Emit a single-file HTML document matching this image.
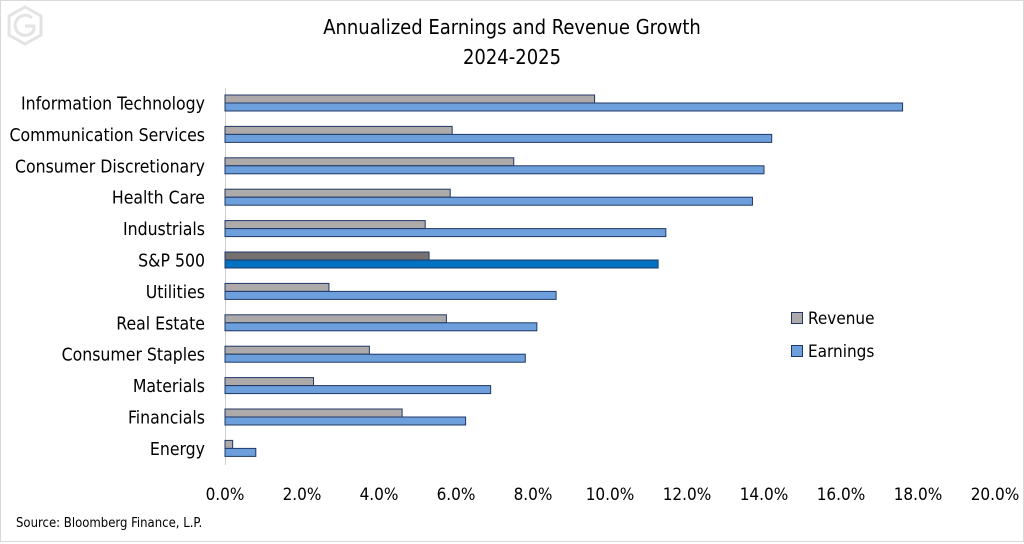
<!DOCTYPE html>
<html><head><meta charset="utf-8">
<style>
body{margin:0;background:#fff;}
#c{width:1024px;height:544px;position:relative;overflow:hidden;font-family:"DejaVu Sans Condensed","Liberation Sans Narrow","Liberation Sans",sans-serif;}
svg text{font-family:"DejaVu Sans Condensed","Liberation Sans Narrow","Liberation Sans",sans-serif;}
</style></head>
<body>
<div id="c">
<svg id="s" width="1024" height="544" xmlns="http://www.w3.org/2000/svg">
  <rect x="0.5" y="0.5" width="1023" height="541" fill="none" stroke="#d9d9d9"/>
  <g fill="none" stroke="#e3e3e3" stroke-width="3">
    <polygon points="25,7 41,16 41,35 25,44 9,35 9,16"/>
    <path d="M32,18 A10,10 0 1 0 34,30 L34,26 L25,26"/>
  </g>
  <text x="512" y="34" text-anchor="middle" font-size="20" fill="#000">Annualized Earnings and Revenue Growth</text>
  <text x="512" y="64" text-anchor="middle" font-size="20" fill="#000">2024-2025</text>
  <text x="16" y="527" font-size="13" fill="#000">Source: Bloomberg Finance, L.P.</text>
  <g id="plot"></g>
  <g>
    <rect x="791.5" y="312.5" width="11" height="11" fill="#aeaaaa" stroke="#1f3864"/>
    <text x="808" y="324" font-size="17">Revenue</text>
    <rect x="791.5" y="345.5" width="11" height="11" fill="#6c9fdc" stroke="#1f3864"/>
    <text x="808" y="357" font-size="17">Earnings</text>
  </g>
</svg>
</div>
<script>
const categories=["Information Technology","Communication Services","Consumer Discretionary","Health Care","Industrials ","S&P 500","Utilities","Real Estate","Consumer Staples","Materials","Financials","Energy"];
const revenue=[9.6,5.9,7.5,5.85,5.2,5.3,2.7,5.75,3.75,2.3,4.6,0.2];
const earnings=[17.6,14.2,14.0,13.7,11.45,11.25,8.6,8.1,7.8,6.9,6.25,0.8];
const xTicks=[0,2,4,6,8,10,12,14,16,18,20];
const x0=225,x1=995,xMax=20;
function xs(v){return x0+(x1-x0)*v/xMax;}
function ys(i){return 103.5+i*31.4;}
const NS="http://www.w3.org/2000/svg";
const g=document.getElementById('plot');
function mk(t,a){const e=document.createElementNS(NS,t);for(const k in a)e.setAttribute(k,a[k]);g.appendChild(e);return e;}
const ax=mk('line',{x1:x0+0.5,x2:x0+0.5,y1:88,y2:465,stroke:'#d0d0d0','stroke-width':1});


categories.forEach((c,i)=>{
  const yc=ys(i);
  const sp=c==="S&P 500";
  const t=mk('text',{x:205,y:yc+6,'text-anchor':'end','font-size':17.5,fill:'#000'});
  t.textContent=c;
  
  
  const r=mk('rect',{x:xs(0),y:yc-8.5,width:xs(revenue[i])-xs(0),height:8,fill:sp?'#767171':'#aeaaaa',stroke:'#1f3864','stroke-width':1});
  
  
  const e=mk('rect',{x:xs(0),y:yc-0.5,width:xs(earnings[i])-xs(0),height:8,fill:sp?'#0070c0':'#6c9fdc',stroke:'#1f3864','stroke-width':1});
  
  
});
xTicks.forEach(v=>{
  const t=mk('text',{x:xs(v),y:500,'text-anchor':'middle','font-size':17,fill:'#000'});
  t.textContent=v.toFixed(1)+'%';
  
  
});
</script>
</body></html>
